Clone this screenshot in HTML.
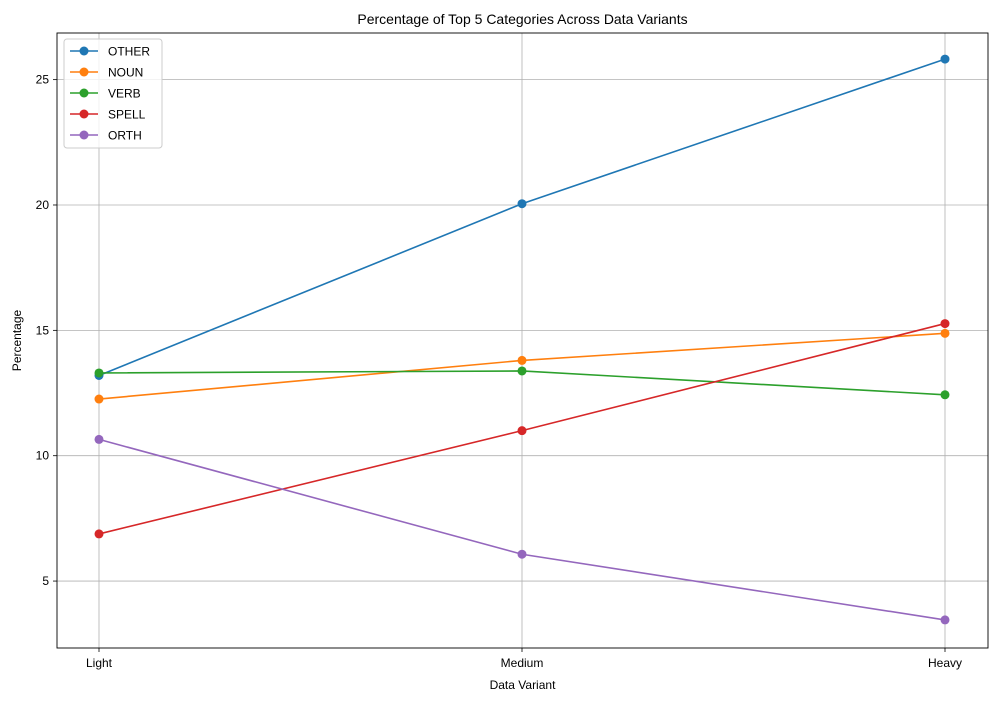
<!DOCTYPE html>
<html><head><meta charset="utf-8"><style>
body{margin:0;background:#fff;}
svg{display:block;font-family:"Liberation Sans","DejaVu Sans",sans-serif;}
</style></head><body>
<svg id="chart" width="996" height="701" xmlns="http://www.w3.org/2000/svg"></svg>
<script>
const categories = ["Light","Medium","Heavy"];
const seriesNames = ["OTHER","NOUN","VERB","SPELL","ORTH"];
const seriesColors = ["#1f77b4","#ff7f0e","#2ca02c","#d62728","#9467bd"];
const otherValues = [13.2, 20.05, 25.82];
const nounValues = [12.26, 13.8, 14.88];
const verbValues = [13.3, 13.38, 12.43];
const spellValues = [6.88, 11.0, 15.27];
const orthValues = [10.65, 6.07, 3.45];
const yTicks = [5, 10, 15, 20, 25];

const allSeries = [otherValues, nounValues, verbValues, spellValues, orthValues];
const NS = "http://www.w3.org/2000/svg";
const svg = document.getElementById("chart");
const L=57,R=988,T=33,B=648;
const yMin=2.33,yMax=26.86;
function xScale(i){return 99 + i*(945-99)/(categories.length-1);}
function yScale(v){return B - (v-yMin)/(yMax-yMin)*(B-T);}
function el(tag,attrs,parent){const e=document.createElementNS(NS,tag);for(const k in attrs)e.setAttribute(k,attrs[k]);(parent||svg).appendChild(e);return e;}

// grid
const grid=el("g",{});


categories.forEach((c,i)=>{el("line",{x1:xScale(i),x2:xScale(i),y1:T,y2:B,stroke:"#b0b0b0","stroke-width":0.8},grid);});
yTicks.forEach(v=>{el("line",{x1:L,x2:R,y1:yScale(v),y2:yScale(v),stroke:"#b0b0b0","stroke-width":0.8},grid);});

// ticks & labels
const xAxis=el("g",{});


categories.forEach((c,i)=>{
  el("line",{x1:xScale(i),x2:xScale(i),y1:B,y2:B+4,stroke:"#000","stroke-width":0.8},xAxis);
  const t=el("text",{x:xScale(i),y:B+19,"text-anchor":"middle","font-size":12},xAxis);t.textContent=c;
  
  
});
const yAxis=el("g",{});


yTicks.forEach(v=>{
  el("line",{x1:L-4,x2:L,y1:yScale(v),y2:yScale(v),stroke:"#000","stroke-width":0.8},yAxis);
  const t=el("text",{x:L-8,y:yScale(v)+4,"text-anchor":"end","font-size":12},yAxis);t.textContent=v;
  
  
});

// series
allSeries.forEach((vals,s)=>{
  const g=el("g",{});
  
  
  el("polyline",{points:vals.map((v,i)=>xScale(i)+","+yScale(v)).join(" "),fill:"none",stroke:seriesColors[s],"stroke-width":1.6},g);
  vals.forEach((v,i)=>{
    const c=el("circle",{cx:xScale(i),cy:yScale(v),r:4.5,fill:seriesColors[s]},g);
    
    
  });
});

// frame
el("rect",{x:L,y:T,width:R-L,height:B-T,fill:"none",stroke:"#000","stroke-width":0.9});

// titles
const title=el("text",{x:(L+R)/2,y:24,"text-anchor":"middle","font-size":14});title.textContent="Percentage of Top 5 Categories Across Data Variants";


const xt=el("text",{x:(L+R)/2,y:689,"text-anchor":"middle","font-size":12});xt.textContent="Data Variant";


const yt=el("text",{x:0,y:0,"text-anchor":"middle","font-size":12,transform:"translate(21,"+((T+B)/2)+") rotate(-90)"});yt.textContent="Percentage";



// legend
const lg=el("g",{});


el("rect",{x:64,y:39,width:98,height:109,rx:3,fill:"#fff","fill-opacity":0.8,stroke:"#ccc"},lg);
seriesNames.forEach((n,s)=>{
  const y=51+s*21;
  const e=el("g",{},lg);
  
  
  el("line",{x1:70,x2:98,y1:y,y2:y,stroke:seriesColors[s],"stroke-width":1.6},e);
  el("circle",{cx:84,cy:y,r:4.5,fill:seriesColors[s]},e);
  const t=el("text",{x:108,y:y+4.5,"font-size":12},e);t.textContent=n;
});
</script>
</body></html>
